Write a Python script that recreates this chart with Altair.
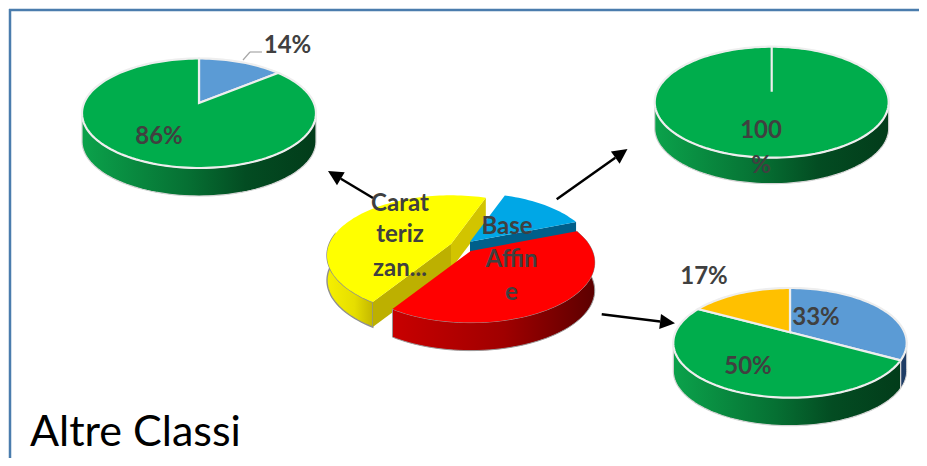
import math
import altair as alt

# ---- values (percent) ----
left_values = [14, 86]
right_values = [100]
lower_values = [33, 50, 17]
main_categories = ["", "Base Affine", "Caratterizzan..."]
main_values = [13.6, 40, 46.4]

left_labels = ["14%", "86%"]
right_labels = ["100", "%"]
lower_labels = ["33%", "50%", "17%"]
main_label_lines = ["Carat", "teriz", "zan...", "Base", "Affin", "e"]
title_text = "Altre Classi"

# ---- colours ----
GREEN, BLUE, ORANGE = "#00ad4c", "#5b9bd5", "#ffc000"
LABEL = "#404040"
FRAME = "#4a7cad"
OX, OY = 8, 8  # page margin


def grad(stops):
    return alt.LinearGradient(
        gradient="linear", x1=0, x2=1, y1=0, y2=0,
        stops=[alt.GradientStop(color=c, offset=o) for o, c in stops],
    )


GREEN_WALL = grad([(0, "#0ba24b"), (0.45, "#067033"), (0.7, "#034c22"), (1, "#023c1a")])
RED_WALL = grad([(0, "#c80000"), (0.55, "#a00000"), (1, "#5c0000")])
YELLOW_WALL = grad([(0, "#f6f000"), (0.6, "#e6de00"), (1, "#c4b800")])


class Pie:
    def __init__(self, cx, cy, up, down, halfw, depth):
        self.cx, self.cy, self.depth = cx, cy, depth
        self.k = (down - up) / (down + up)
        self.a = up * (1 + self.k)
        self.b = halfw * math.sqrt(1 - self.k ** 2)

    def rim(self, deg, dz=0):
        t = math.radians(deg)
        u, v = math.sin(t), math.cos(t)
        d = 1 + self.k * v
        return (self.cx + self.b * u / d, self.cy - self.a * v / d + dz)

    def arc(self, a0, a1, dz=0):
        n = max(2, int(abs(a1 - a0) / 2))
        return [self.rim(a0 + (a1 - a0) * i / n, dz) for i in range(n + 1)]

    def face(self, a0, a1):
        return [(self.cx, self.cy)] + self.arc(a0, a1)

    def wall(self, a0, a1, depth=None):
        d = self.depth if depth is None else depth
        return self.arc(a0, a1) + self.arc(a1, a0, d)

    def radial_wall(self, deg, depth=None):
        d = self.depth if depth is None else depth
        p = self.rim(deg)
        c = (self.cx, self.cy)
        return [c, p, (p[0], p[1] + d), (c[0], c[1] + d)]


layers = []


def shape(pts, fill, stroke=None, sw=0):
    ring = [[x - OX, y - OY] for x, y in pts]
    ring.append(ring[0])
    feature = {"type": "Feature", "properties": {},
               "geometry": {"type": "Polygon", "coordinates": [ring]}}
    kw = {"fill": fill, "strokeWidth": sw}
    kw["stroke"] = stroke if stroke else "transparent"
    layers.append(
        alt.Chart(alt.Data(values=[feature])).mark_geoshape(**kw)
        .project(type="identity", scale=1, translate=[0, 0])
    )


def rule(x, y, x2, y2, color, width):
    layers.append(
        alt.Chart(alt.Data(values=[{"x": x - OX, "y": y - OY, "x2": x2 - OX, "y2": y2 - OY}]))
        .mark_rule(color=color, strokeWidth=width)
        .encode(x=alt.X("x:Q", scale=None), y=alt.Y("y:Q", scale=None),
                x2=alt.X2("x2:Q"), y2=alt.Y2("y2:Q"))
    )


def arrow(x0, y0, x1, y1):
    L = math.hypot(x1 - x0, y1 - y0)
    ux, uy = (x1 - x0) / L, (y1 - y0) / L
    bx, by = x1 - ux * 15, y1 - uy * 15
    rule(x0, y0, bx, by, "#000000", 2.5)
    shape([(x1, y1), (bx - uy * 7.5, by + ux * 7.5), (bx + uy * 7.5, by - ux * 7.5)], "#000000")


def text(lines, xs, ys, size=24, weight="bold", color=LABEL):
    rows = [{"t": t, "x": x - OX, "y": y - OY + 1.5} for t, x, y in zip(lines, xs, ys)]
    layers.append(
        alt.Chart(alt.Data(values=rows))
        .mark_text(font="Lato", fontSize=size, fontWeight=weight, color=color, baseline="middle")
        .encode(x=alt.X("x:Q", scale=None), y=alt.Y("y:Q", scale=None), text=alt.Text("t:N"))
    )


def spans(values, start=0.0):
    total, out, a = sum(values), [], start
    for v in values:
        out.append((a, a + 360.0 * v / total))
        a += 360.0 * v / total
    return out


RIM = "#eeeeee"
EDGE = "#d4d4d4"

# frame
rule(10, 9, 10, 466, FRAME, 2.5)
rule(9, 10, 927, 10, FRAME, 2.5)

# top-left pie
p = Pie(199, 103, 44.5, 65, 117, 28)
s = spans(left_values)
shape(p.wall(100, 260), GREEN_WALL, EDGE, 1.2)
shape(p.face(*s[0]), BLUE, RIM, 2.2)
shape(p.face(*s[1]), GREEN, RIM, 2.2)
rule(243, 60, 250, 52, "#a6a6a6", 1.2)
rule(250, 52, 262, 52, "#a6a6a6", 1.2)

# top-right pie
p = Pie(771.7, 91.7, 45, 66, 117, 26)
s = spans(right_values)
shape(p.wall(100, 260), GREEN_WALL, EDGE, 1.2)
shape(p.face(*s[0]), GREEN, RIM, 2.2)

# lower-right pie
p = Pie(790, 332.3, 44.3, 65.4, 116.7, 28)
s = spans(lower_values)
shape(p.wall(100, s[0][1]), "#1f3d66", EDGE, 1.0)
shape(p.wall(s[1][0], 260), GREEN_WALL, EDGE, 1.2)
for (a0, a1), col in zip(s, [BLUE, GREEN, ORANGE]):
    shape(p.face(a0, a1), col, RIM, 2.2)

# centre pie, three exploded slices
base = dict(up=48.7, down=71.6, halfw=124)
s = spans(main_values, 19.7)
yellow = Pie(451, 244, depth=25, **base)
blue = Pie(470, 241.7, depth=25, **base)
red = Pie(470.7, 251, depth=28, **base)

shape(yellow.wall(s[2][0], 280), YELLOW_WALL, "#8f8f8f", 1.4)
shape(yellow.radial_wall(s[2][1]), "#d2c400")
shape(yellow.radial_wall(s[2][0]), "#bdb000")
shape(yellow.face(*s[2]), "#ffff00")
shape(blue.radial_wall(s[0][1]), "#005f8a")
shape(blue.face(*s[0]), "#00a7e6")
shape(red.wall(s[1][0], s[1][1]), RED_WALL, "#9a9a9a", 1.0)
shape(red.face(*s[1]), "#ff0000")

# arrows
arrow(373, 198, 328, 171)
arrow(556.7, 199.3, 627.5, 149)
arrow(601.7, 314.3, 675, 323.3)

# labels
text(left_labels, [287.5, 159], [44.5, 135])
text(right_labels, [761, 761], [129, 164])
text(lower_labels, [816, 748, 704], [316.5, 365.5, 275.5])
text(main_label_lines, [400, 400, 400, 507, 511.5, 511.5], [202, 233, 267, 225, 258, 291.7])
layers.append(
    alt.Chart(alt.Data(values=[{"t": title_text, "x": 30 - OX, "y": 446 - OY}]))
    .mark_text(font="Lato", fontSize=43, color="#000000", align="left", baseline="alphabetic")
    .encode(x=alt.X("x:Q", scale=None), y=alt.Y("y:Q", scale=None), text=alt.Text("t:N"))
)

chart = alt.layer(*layers).properties(
    width=911, height=450, padding=0,
    autosize=alt.AutoSizeParams(type="none"),
    background="#ffffff",
).configure_view(stroke=None)

chart.save("out.html", embed_options={"renderer": "svg", "actions": False})
